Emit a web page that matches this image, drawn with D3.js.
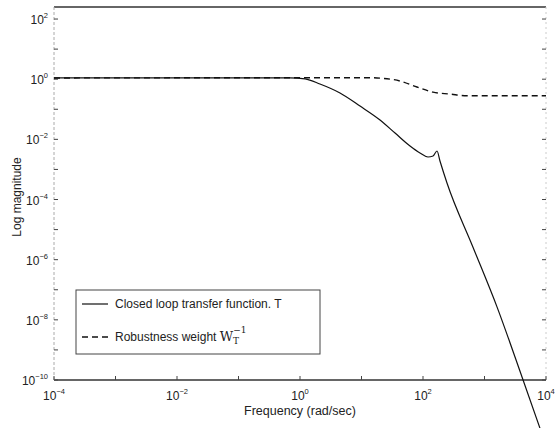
<!DOCTYPE html>
<html><head><meta charset="utf-8">
<script src="https://cdn.jsdelivr.net/npm/d3@7"></script>
<style>body{margin:0;background:#fff}svg{display:block}text{font-family:"Liberation Sans",Arial,sans-serif;fill:#222}</style>
</head><body>
<script>
// Closed loop transfer function T
const freqT = [1e-4, 0.687, 1.21, 2.11, 4.47, 9.46, 20.0, 35.1, 61.5, 89.3, 120.5, 145.6, 169, 188.8, 245.5, 650, 1596, 4074, 7980];
const magT  = [1.1, 1.1, 1.02, 0.69, 0.347, 0.128, 0.0441, 0.01625, 0.00601, 0.00352, 0.00259, 0.0028, 0.0041, 0.00191, 3.54e-4, 2.6e-6, 2.7e-8, 1.26e-10, 2.5e-12];
// Robustness weight W_T^-1
const freqW = [1e-4, 13.7, 17.9, 42.3, 79.8, 145.6, 274.8, 518.8, 1e4];
const magW  = [1.1, 1.12, 1.1, 0.87, 0.55, 0.37, 0.32, 0.28, 0.28];
const xTickVals = [1e-4, 1e-2, 1, 1e2, 1e4];
const xTickExp = ["\u22124", "\u22122", "0", "2", "4"];
const yTickVals = [1e2, 1, 1e-2, 1e-4, 1e-6, 1e-8, 1e-10];
const yTickExp = ["2", "0", "\u22122", "\u22124", "\u22126", "\u22128", "\u221210"];
const legendLabels = ["Closed loop transfer function. T", "Robustness weight"];

const W = 559, H = 428;
const L = 54, R = 546, T = 7, B = 380;
const svg = d3.select("body").append("svg").attr("width", W).attr("height", H);
const x = d3.scaleLog().domain([1e-4, 1e4]).range([L, R]);
const y = d3.scaleLog().domain([1e-10, Math.pow(10, 2.4)]).range([B, T]);

// frame
svg.append("line").attr("x1", L).attr("x2", R).attr("y1", T).attr("y2", T).attr("stroke", "#333").attr("stroke-width", 1.3);
svg.append("line").attr("x1", L).attr("x2", R).attr("y1", B).attr("y2", B).attr("stroke", "#333").attr("stroke-width", 1.6);
svg.append("line").attr("x1", L).attr("x2", L).attr("y1", T).attr("y2", B).attr("stroke", "#aaa").attr("stroke-width", 1).attr("stroke-dasharray", "3,2");
svg.append("line").attr("x1", R).attr("x2", R).attr("y1", T).attr("y2", B).attr("stroke", "#ccc").attr("stroke-width", 1).attr("stroke-dasharray", "2,3");

// decade ticks on left / right / bottom
const decades = d3.range(-10, 3).map(e => Math.pow(10, e));
svg.append("g").selectAll("line").data(decades).join("line")
  .attr("x1", L).attr("x2", L + 4).attr("y1", d => y(d)).attr("y2", d => y(d)).attr("stroke", "#444");
svg.append("g").selectAll("line").data(decades).join("line")
  .attr("x1", R - 4).attr("x2", R).attr("y1", d => y(d)).attr("y2", d => y(d)).attr("stroke", "#444");
svg.append("g").selectAll("line").data(d3.range(-4, 5).map(e => Math.pow(10, e))).join("line")
  .attr("x1", d => x(d)).attr("x2", d => x(d)).attr("y1", B).attr("y2", B - 4).attr("stroke", "#444");

// x tick labels
const xl = svg.append("g").selectAll("text").data(xTickVals).join("text")
  .attr("x", d => x(d)).attr("y", 400).attr("text-anchor", "middle").attr("font-size", 12);
xl.append("tspan").text("10");
xl.append("tspan").attr("dy", -6).attr("font-size", 7.5).text((d, i) => xTickExp[i]);

// y tick labels
const yl = svg.append("g").selectAll("text").data(yTickVals).join("text")
  .attr("x", 48).attr("y", d => y(d) + 5).attr("text-anchor", "end").attr("font-size", 12);
yl.append("tspan").text("10");
yl.append("tspan").attr("dy", -6).attr("font-size", 7.5).text((d, i) => yTickExp[i]);

// axis titles
svg.append("text").attr("x", 300).attr("y", 415).attr("text-anchor", "middle").attr("font-size", 12.5).text("Frequency (rad/sec)");
svg.append("text").attr("transform", "translate(21,197) rotate(-90)").attr("text-anchor", "middle").attr("font-size", 12).text("Log magnitude");

// curves
const line = d3.line().x(d => x(d[0])).y(d => y(d[1])).curve(d3.curveMonotoneX);
svg.append("path").datum(freqW.map((f, i) => [f, magW[i]])).attr("d", line)
  .attr("fill", "none").attr("stroke", "#111").attr("stroke-width", 1.4).attr("stroke-dasharray", "6,4");
svg.append("path").datum(freqT.map((f, i) => [f, magT[i]])).attr("d", line)
  .attr("fill", "none").attr("stroke", "#111").attr("stroke-width", 1.2);

// legend
const lg = svg.append("g");
lg.append("rect").attr("x", 76).attr("y", 290).attr("width", 244).attr("height", 64).attr("fill", "#fff").attr("stroke", "#444").attr("stroke-width", 1);
lg.append("line").attr("x1", 82).attr("x2", 108).attr("y1", 304).attr("y2", 304).attr("stroke", "#111").attr("stroke-width", 1.2);
lg.append("line").attr("x1", 82).attr("x2", 108).attr("y1", 337).attr("y2", 337).attr("stroke", "#111").attr("stroke-width", 1.4).attr("stroke-dasharray", "6,4");
lg.append("text").attr("x", 115).attr("y", 308).attr("font-size", 12).text(legendLabels[0]);
const t2 = lg.append("text").attr("x", 115).attr("y", 341).attr("font-size", 12);
t2.append("tspan").text(legendLabels[1] + "  ");
t2.append("tspan").attr("font-family", "DejaVu Serif, serif").attr("font-size", 13).text("W");
t2.append("tspan").attr("font-family", "DejaVu Serif, serif").attr("font-size", 9).attr("dy", 3).text("T");
t2.append("tspan").attr("font-family", "DejaVu Serif, serif").attr("font-size", 9).attr("dx", -6).attr("dy", -11).text("\u22121");
</script>
</body></html>
